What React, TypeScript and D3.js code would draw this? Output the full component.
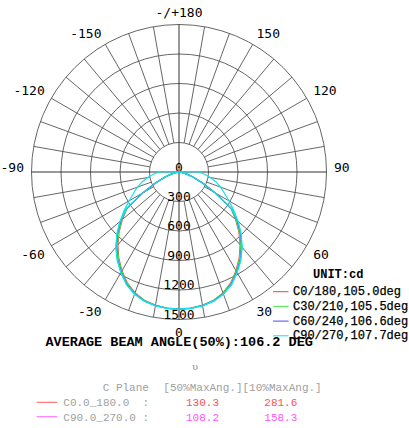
import React from "react";
import * as d3 from "d3";

// ---------- data ----------
const gammas = [0, 5, 10, 15, 20, 25, 30, 35, 40, 45, 50, 55, 60, 65, 70, 75, 80, 85, 90, 95];

const c0_180 = [1395, 1390, 1377, 1352, 1308, 1245, 1160, 1068, 968, 862, 752, 645, 420, 260, 150, 80, 35, 10, 0, 0];
const c30_210 = [1395, 1390, 1378, 1354, 1311, 1250, 1166, 1075, 976, 870, 760, 650, 425, 262, 152, 82, 36, 10, 0, 0];
const c60_240 = [1396, 1391, 1380, 1358, 1318, 1258, 1176, 1088, 990, 885, 775, 660, 430, 265, 155, 83, 37, 11, 0, 0];
const c90 = [1396, 1392, 1381, 1360, 1322, 1263, 1182, 1095, 998, 893, 785, 680, 585, 510, 450, 390, 322, 262, 200, 0];
const c270 = [1396, 1392, 1381, 1360, 1322, 1263, 1182, 1095, 998, 893, 785, 655, 425, 262, 152, 82, 36, 10, 0, 0];

const seriesNames = ["C0/180,105.0deg", "C30/210,105.5deg", "C60/240,106.6deg", "C90/270,107.7deg"];
const seriesColors = ["#ff3a3a", "#44f044", "#4a4aff", "#10e4ee"];
const seriesPlanes = [[c0_180], [c30_210], [c60_240], [c90, c270]];

const ringValues = [300, 600, 900, 1200, 1500];
const spokeAngles = d3.range(0, 360, 10);
const angleLabels = [180, 150, 120, 90, 60, 30, 0, -30, -60, -90, -120, -150];

const tablePlanes = ["C0.0_180.0  :", "C90.0_270.0 :"];
const table50 = ["130.3", "108.2"];
const table10 = ["281.6", "158.3"];
const tableLineColors = ["#ff5a5a", "#ff66ff"];
const tableValueColors = ["#ff5050", "#ff55ff"];

// ---------- layout ----------
const W = 409;
const H = 428;
const CX = 179;
const CY = 172;
const R = 147.5;

const rScale = d3.scaleLinear().domain([0, 1500]).range([0, R]);
const toRad = (g: number) => (g * Math.PI) / 180;

function polar(g: number, r: number): [number, number] {
  return [CX + r * Math.sin(toRad(g)), CY + r * Math.cos(toRad(g))];
}

const radial = d3
  .lineRadial<[number, number]>()
  .angle((d) => d[0])
  .radius((d) => rScale(d[1]))
  .curve(d3.curveLinear);

function planePath(vals: number[]): string {
  const pts: [number, number][] = [];
  for (let i = gammas.length - 1; i >= 0; i--) pts.push([Math.PI + toRad(gammas[i]), vals[i]]);
  for (let i = 1; i < gammas.length; i++) pts.push([Math.PI - toRad(gammas[i]), vals[i]]);
  return radial(pts) || "";
}

const monoFont = "'DejaVu Sans Mono', monospace";
const courier = "'Liberation Mono', 'Courier New', monospace";

export default function App() {
  return (
    <svg
      width={W}
      height={H}
      viewBox={`0 0 ${W} ${H}`}
      style={{ position: "absolute", left: 0, top: 0, background: "#fff" }}
    >
      <rect x={0} y={0} width={W} height={H} fill="#fff" />
      {/* spokes */}
      <g stroke="#555" strokeWidth={0.9}>
        {spokeAngles
          .filter((a) => a % 90 !== 0)
          .map((a) => {
            const [x1, y1] = polar(a, rScale(ringValues[0]));
            const [x2, y2] = polar(a, R);
            return <line key={a} x1={x1} y1={y1} x2={x2} y2={y2} />;
          })}
      </g>
      {/* rings */}
      <g fill="none" stroke="#555" strokeWidth={0.9}>
        {ringValues.map((v) => (
          <circle key={v} cx={CX} cy={CY} r={rScale(v)} />
        ))}
      </g>
      {/* axes */}
      <g stroke="#333" strokeWidth={1}>
        <line x1={CX - R} y1={CY} x2={CX + R} y2={CY} />
        <line x1={CX} y1={CY - R} x2={CX} y2={CY + R} />
      </g>
      {/* ring labels */}
      <g fontFamily={monoFont} fontSize={13} fill="#000" textAnchor="middle">
        <text x={CX} y={CY - 0.5}>0</text>
        {ringValues.map((v) => (
          <text key={v} x={CX} y={CY + rScale(v) - 1}>
            {v}
          </text>
        ))}
      </g>
      {/* angle labels */}
      <g fontFamily={monoFont} fontSize={13} fill="#000">
        {angleLabels.map((a) => {
          const [x, y] = polar(a, 155);
          const s = Math.sin(toRad(a));
          const anchor = Math.abs(s) < 0.01 ? "middle" : s > 0 ? "start" : "end";
          const lower = Math.cos(toRad(a)) > 0.01;
          const label = a === 180 ? "-/+180" : String(a);
          return (
            <text key={a} x={x} y={lower ? y + 9.5 : y} textAnchor={anchor}>
              {label}
            </text>
          );
        })}
      </g>
      {/* curves */}
      <g fill="none" strokeWidth={1.2}>
        {seriesPlanes.map((planes, i) =>
          planes.map((p, j) => (
            <path
              key={`${i}-${j}`}
              d={planePath(p)}
              transform={`translate(${CX},${CY})`}
              stroke={seriesColors[i]}
            />
          ))
        )}
      </g>
      {/* legend */}
      <text x={313} y={278} fontFamily={courier} fontSize={12} fontWeight="bold" fill="#000">
        UNIT:cd
      </text>
      {seriesNames.map((n, i) => {
        const y = 291.7 + i * 14.7;
        return (
          <g key={n}>
            <line x1={273} y1={y} x2={288.5} y2={y} stroke={seriesColors[i]} strokeWidth={1} />
            <text x={293} y={y + 3.5} fontFamily={courier} fontSize={12} fill="#000" stroke="#000" strokeWidth={0.25}>
              {n}
            </text>
          </g>
        );
      })}
      {/* beam angle */}
      <text x={45.5} y={346} fontFamily={courier} fontSize={13.5} fontWeight="bold" fill="#000">
        AVERAGE BEAM ANGLE(50%):106.2 DEG
      </text>
      <text x={195} y={369.5} fontFamily="'DejaVu Serif', serif" fontSize={10} fill="#8a8aa0" textAnchor="middle">
        υ
      </text>
      {/* table */}
      <g fontFamily={courier} fontSize={11} fill="#a0a0a0">
        <text x={102.7} y={391}>C Plane</text>
        <text x={163.3} y={391}>[50%MaxAng.][10%MaxAng.]</text>
        {tablePlanes.map((p, i) => {
          const y = 402.3 + i * 14.4;
          return (
            <g key={p}>
              <line x1={36.7} y1={y} x2={57.3} y2={y} stroke={tableLineColors[i]} strokeWidth={1} />
              <text x={63.3} y={y + 3.8} xmlSpace="preserve">{p}</text>
              <text x={186} y={y + 3.8} fill={tableValueColors[i]}>{table50[i]}</text>
              <text x={264.3} y={y + 3.8} fill={tableValueColors[i]}>{table10[i]}</text>
            </g>
          );
        })}
      </g>
    </svg>
  );
}
